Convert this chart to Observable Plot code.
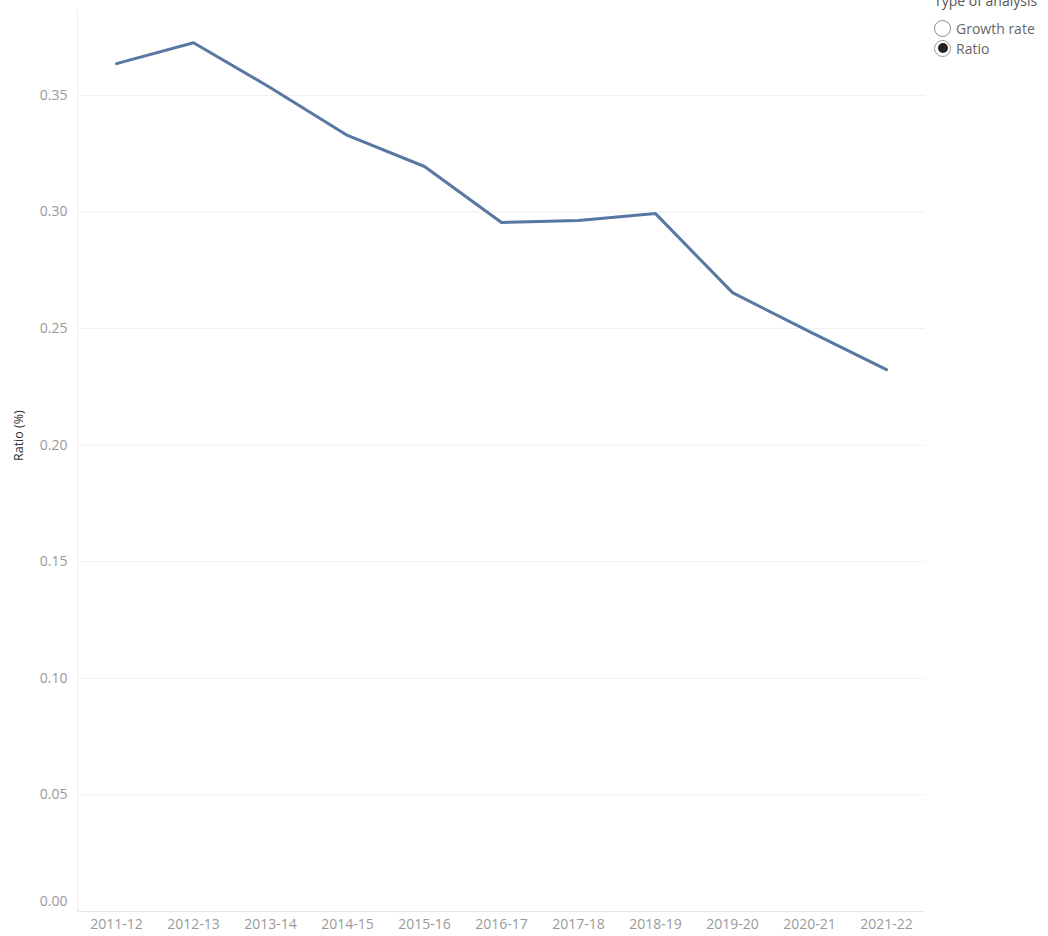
<!DOCTYPE html>
<html>
<head>
<meta charset="utf-8">
<script src="https://cdn.jsdelivr.net/npm/d3@7"></script>
<script src="https://cdn.jsdelivr.net/npm/@observablehq/plot@0.6"></script>
<style>
  html, body { margin: 0; padding: 0; background: #fff; }
  #wrap { position: relative; width: 1048px; height: 936px; overflow: hidden; }
  #legend { position: absolute; left: 934px; top: 2px; font-family: "Open Sans", sans-serif; font-size: 14px; color: #666; white-space: nowrap; }
  #legend .title { color: #555; height: 16px; line-height: 16px; position: relative; top: -9px; }
  #legend .item { display: flex; align-items: center; height: 20px; }
  #legend .radio { width: 17px; height: 17px; border: 1.5px solid #888; border-radius: 50%; box-sizing: border-box; margin-right: 5px; display: flex; align-items: center; justify-content: center; background: #fff; }
  #legend .radio.on { border-color: #999; }
  #legend .radio.on::after { content: ""; width: 10px; height: 10px; border-radius: 50%; background: #222; }
  svg text { font-family: "Open Sans", sans-serif; }
</style>
</head>
<body>
<div id="wrap">
  <div id="chart"></div>
  <div id="legend"></div>
</div>
<script>
const years = ["2011-12","2012-13","2013-14","2014-15","2015-16","2016-17","2017-18","2018-19","2019-20","2020-21","2021-22"];
const ratios = [0.3636, 0.3726, 0.3533, 0.3328, 0.3195, 0.2955, 0.2963, 0.2993, 0.2654, 0.2487, 0.2324];
const yTicks = [0.05, 0.10, 0.15, 0.20, 0.25, 0.30, 0.35];
const yZeroTick = [0];
const legendTitle = "Type of analysis";
const legendOptions = ["Growth rate", "Ratio"];
const selectedOption = "Ratio";

const data = years.map((y, i) => ({year: y, ratio: ratios[i]}));

const chart = Plot.plot({
  width: 1048,
  height: 936,
  marginLeft: 77,
  marginRight: 123,
  marginTop: 10,
  marginBottom: 25,
  style: {fontFamily: "Open Sans, sans-serif", fontSize: "14px", color: "#999", background: "#fff"},
  x: {type: "point", domain: years, padding: 0.5, label: null},
  y: {domain: [0, 0.3864], label: null},
  marks: [
    Plot.gridY(yTicks, {stroke: "#f0f0f0", strokeOpacity: 1}),
    Plot.ruleY([0], {stroke: "#e6e6e6"}),
    Plot.frame({anchor: "left", stroke: "#f0f0f0"}),
    Plot.axisY(yTicks, {tickSize: 0, tickPadding: 10, tickFormat: d3.format(".2f"), fill: "#999", fontSize: 14, label: null}),
    Plot.axisY(yZeroTick, {tickSize: 0, tickPadding: 10, dy: -10, tickFormat: d3.format(".2f"), fill: "#999", fontSize: 14, label: null}),
    Plot.axisX({tickSize: 0, tickPadding: 8, fill: "#999", fontSize: 14, label: null}),
    Plot.text(["Ratio (%)"], {frameAnchor: "left", dx: -59, rotate: -90, fill: "#333", fontSize: 12.5}),
    Plot.lineY(data, {x: "year", y: "ratio", stroke: "#5878a3", strokeWidth: 3, strokeLinejoin: "round"})
  ]
});
document.getElementById("chart").appendChild(chart);

const leg = document.getElementById("legend");
const t = document.createElement("div");
t.className = "title"; t.textContent = legendTitle; leg.appendChild(t);
legendOptions.forEach(o => {
  const it = document.createElement("div"); it.className = "item";
  const r = document.createElement("span"); r.className = "radio" + (o === selectedOption ? " on" : "");
  const l = document.createElement("span"); l.textContent = o;
  it.appendChild(r); it.appendChild(l); leg.appendChild(it);
});
</script>
</body>
</html>
